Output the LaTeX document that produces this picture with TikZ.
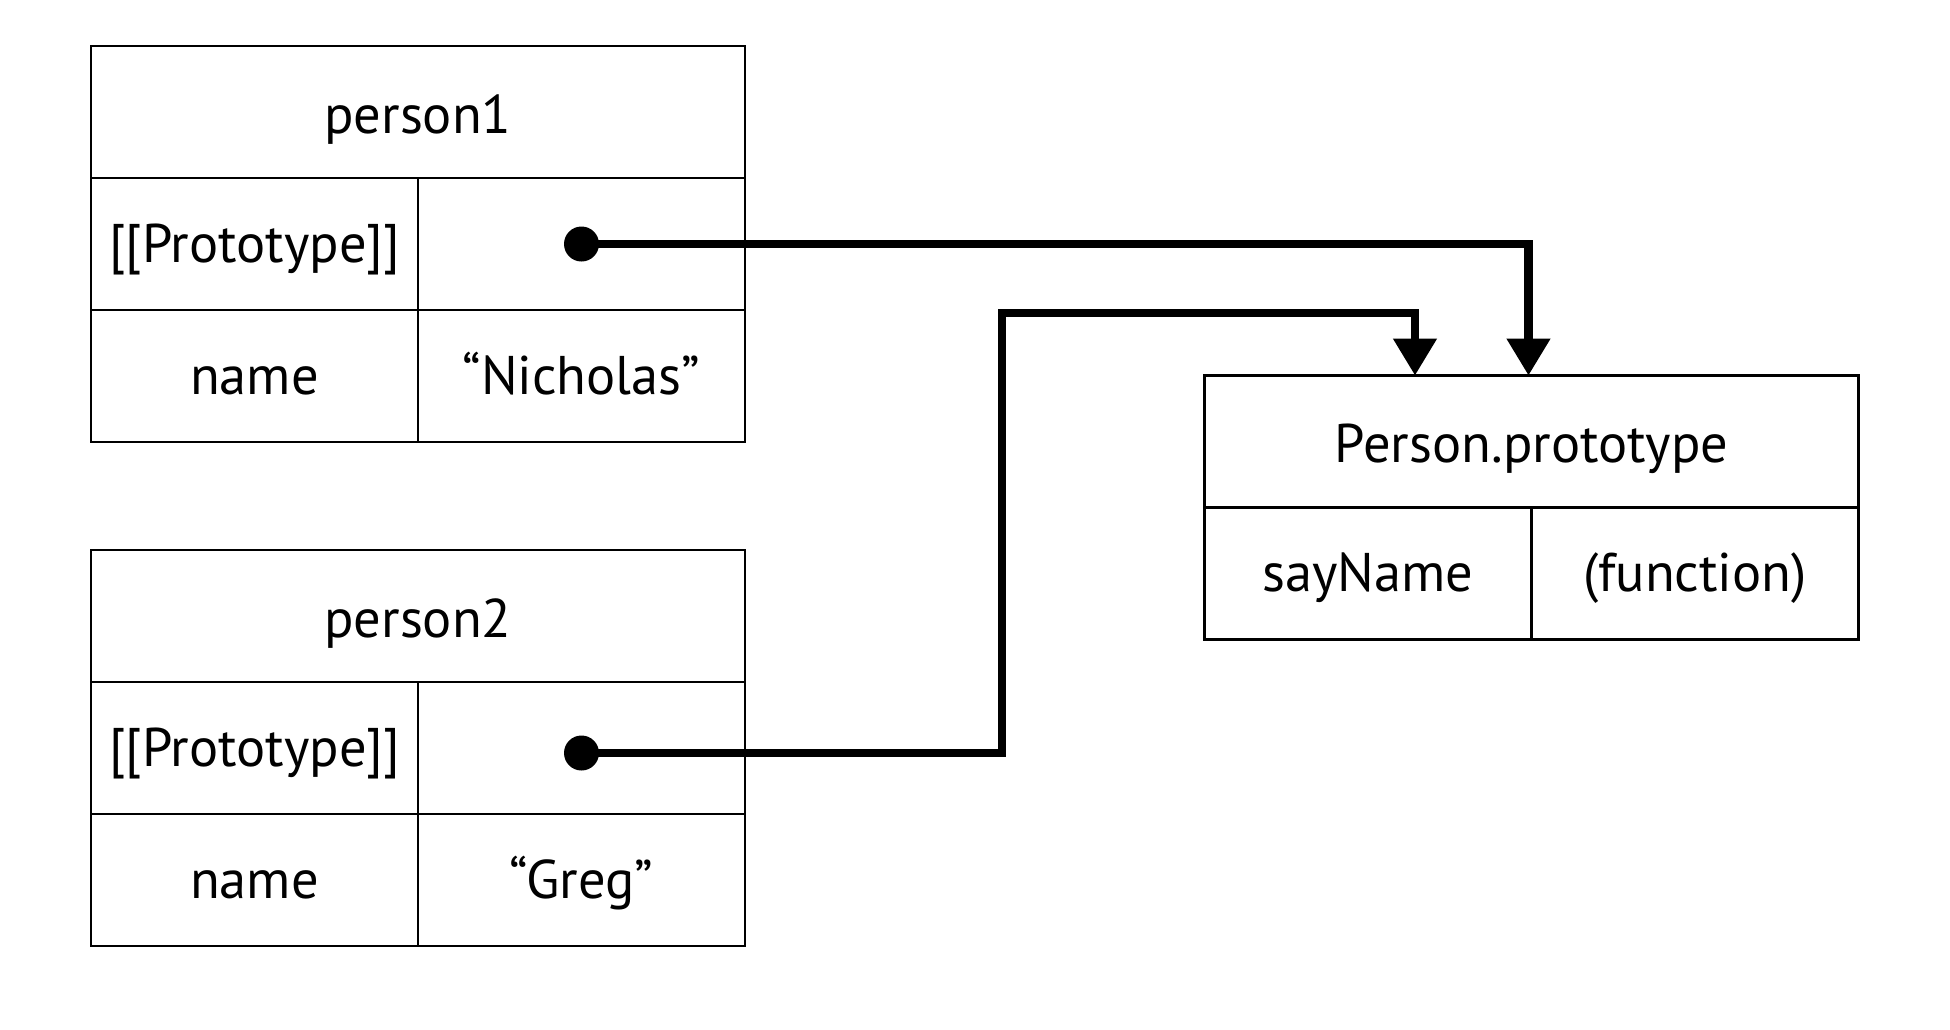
\documentclass[tikz,border=0pt]{standalone}
\usepackage{fontspec}
\setmainfont{PT Sans}
\usetikzlibrary{positioning,arrows.meta}

\begin{document}
\begin{tikzpicture}[
    cell/.style={rectangle, draw, line width=0.7pt, inner sep=0pt, outer sep=0pt,
                 minimum height=1.32cm, align=center, text height=11pt, text depth=0.5pt,
                 font=\fontsize{15.5}{18}\selectfont},
    wide/.style={cell, minimum width=6.54cm, text height=12pt, text depth=0pt},
    half/.style={cell, minimum width=3.27cm},
    dot/.style={circle, fill, inner sep=0pt, minimum size=0.35cm},
    link/.style={-{Triangle[length=3.7mm, width=4.2mm]}, line width=2.3pt}
]
\useasboundingbox (0,0) rectangle (19.5,-10.3);

% person1
\node[wide] (p1) at (4.18,-1.12) {person1};
\node[half, below right=0cm of p1.south west] (p1key) {[[Prototype]]};
\node[half, right=0cm of p1key] (p1proto) {};
\node[half, below=0cm of p1key] (p1name) {name};
\node[half, right=0cm of p1name] (p1val) {“Nicholas”};

% person2
\node[wide] (p2) at (4.18,-6.16) {person2};
\node[half, below right=0cm of p2.south west] (p2key) {[[Prototype]]};
\node[half, right=0cm of p2key] (p2proto) {};
\node[half, below=0cm of p2key] (p2name) {name};
\node[half, right=0cm of p2name] (p2val) {“Greg”};

% Person.prototype
\node[wide] (pp) at (15.315,-4.415) {Person.prototype};
\node[half, below right=0cm of pp.south west] (ppkey) {sayName};
\node[half, right=0cm of ppkey] (ppval) {(function)};

\node[dot] (d1) at (p1proto.center) {};
\node[dot] (d2) at ([yshift=-0.05cm]p2proto.center) {};
\coordinate (bend) at (10.02,-3.13);

\draw[link] (d1.center) -| ([xshift=-0.03cm]pp.north);
\draw[link] (d2.center) -| (bend) -| ([xshift=-1.165cm]pp.north);
\end{tikzpicture}
\end{document}
